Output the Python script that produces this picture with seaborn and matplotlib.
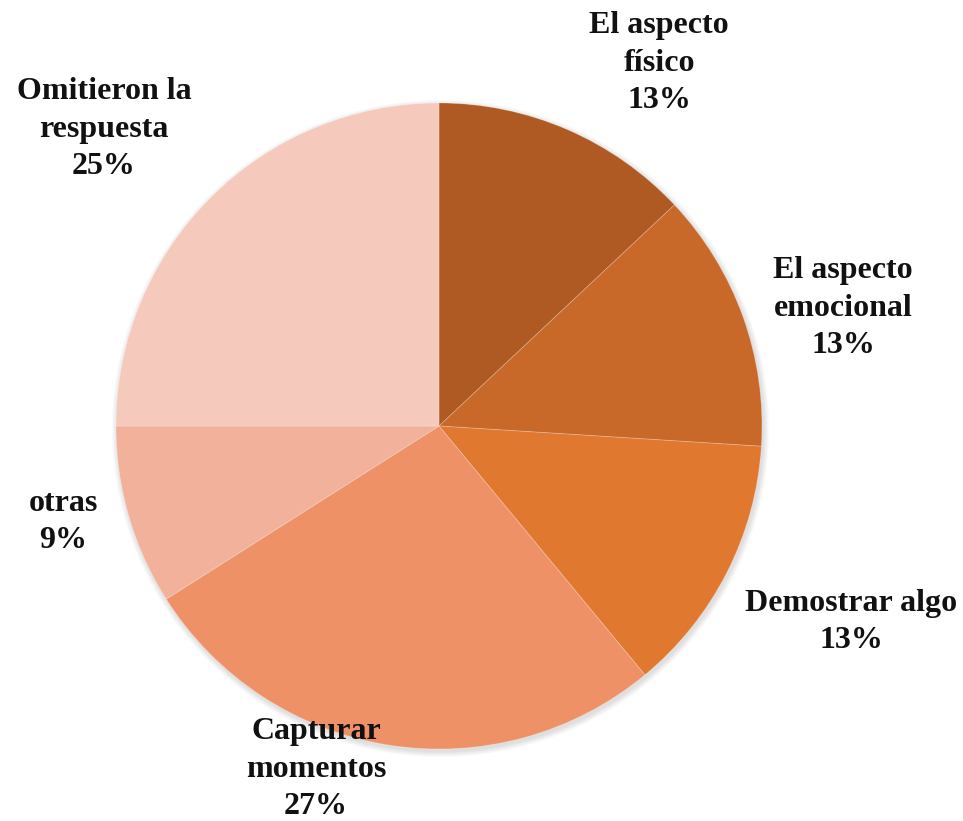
import numpy as np
import matplotlib
matplotlib.use("Agg")
import matplotlib.pyplot as plt
import seaborn as sns

# Motivos declarados (porcentaje de respuestas)
categorias = ["El aspecto\nfísico", "El aspecto\nemocional", "Demostrar algo",
              "Capturar\nmomentos", "otras", "Omitieron la\nrespuesta"]
porcentajes = [13, 13, 13, 27, 9, 25]
colores = ["#AE5A22", "#C8692A", "#E17830", "#EF9167", "#F2B19B", "#F5CABD"]

# Posición (px) del centro de cada etiqueta
etiqueta_xy = [(659, 63), (843, 308), (851, 622), (316, 769), (63, 522), (104, 129)]

sns.set_theme(style="white")
plt.rcParams["font.family"] = ["Liberation Serif", "DejaVu Serif"]

W, H = 963, 821
fig = plt.figure(figsize=(W / 100, H / 100), dpi=100)
ax = fig.add_axes([0, 0, 1, 1])

cx, cy, r = 439, H - 426, 323

# Sombra suave alrededor del círculo
yy, xx = np.mgrid[0:H, 0:W]
d = np.hypot(xx - (cx + 1.0), (H - yy) - (cy - 2.0))
alpha = np.clip(1 - (d - r) / 6.0, 0, 1) * 0.18
shadow = np.zeros((H, W, 4))
shadow[..., :3] = 0.3
shadow[..., 3] = alpha
ax.imshow(shadow, extent=(0, W, 0, H), origin="upper", zorder=0, interpolation="bilinear")

ax.pie(porcentajes, colors=colores, startangle=90, counterclock=False,
       center=(cx, cy), radius=r,
       wedgeprops=dict(edgecolor=(1, 1, 1, 0.25), linewidth=0.6, zorder=1))

for nombre, valor, (x, y) in zip(categorias, porcentajes, etiqueta_xy):
    ax.text(x, H - y, f"{nombre}\n{valor}%", ha="center", va="center",
            fontsize=23, fontweight="bold", color="#111111", linespacing=1.38)

ax.set_xlim(0, W)
ax.set_ylim(0, H)
ax.set_aspect("equal")
ax.axis("off")

fig.savefig("out.png", dpi=100, facecolor="white")
